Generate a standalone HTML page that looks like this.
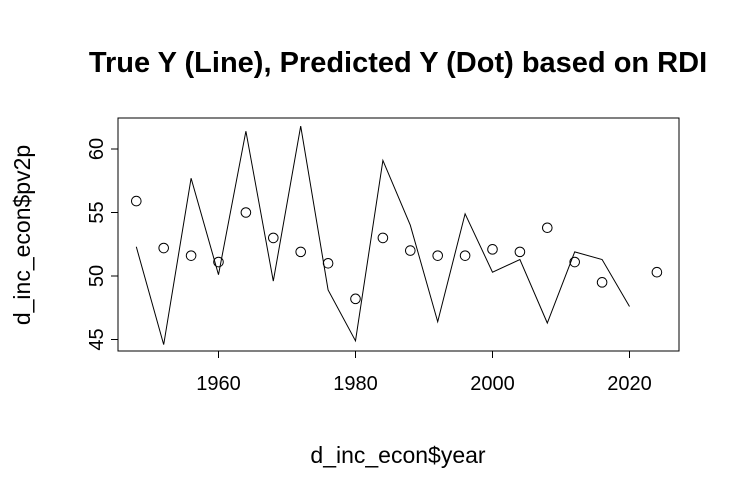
<!DOCTYPE html>
<html><head><meta charset="utf-8"><style>
body{margin:0;background:#fff}
svg text{font-family:"Liberation Sans",Arial,sans-serif;fill:#000}
</style></head><body>
<svg id="chart" width="738" height="498" viewBox="0 0 738 498" xmlns="http://www.w3.org/2000/svg">
<text x="398" y="72" font-size="29" font-weight="bold" text-anchor="middle">True Y (Line), Predicted Y (Dot) based on RDI</text>
<rect x="118" y="118" width="561" height="233" fill="none" stroke="#000" stroke-width="1"/>
<text x="398" y="463" font-size="23" text-anchor="middle">d_inc_econ$year</text>
<text transform="translate(30,235) rotate(-90)" font-size="23" text-anchor="middle">d_inc_econ$pv2p</text>
<g id="g"></g>
</svg>
<script>
const lineYears=[1948,1952,1956,1960,1964,1968,1972,1976,1980,1984,1988,1992,1996,2000,2004,2008,2012,2016,2020];
const trueY=[52.3,44.6,57.7,50.1,61.4,49.6,61.8,48.9,44.9,59.1,54.0,46.4,54.9,50.3,51.3,46.3,51.9,51.3,47.6];
const dotYears=[1948,1952,1956,1960,1964,1968,1972,1976,1980,1984,1988,1992,1996,2000,2004,2008,2012,2016,2024];
const predY=[55.9,52.2,51.6,51.1,55.0,53.0,51.9,51.0,48.2,53.0,52.0,51.6,51.6,52.1,51.9,53.8,51.1,49.5,50.3];
const xTicks=[1960,1980,2000,2020];
const yTicks=[45,50,55,60];
const NS="http://www.w3.org/2000/svg";
const X=v=>218.5+(v-1960)*6.85;
const Y=v=>276-(v-50)*12.7;
const g=document.getElementById('g');
function mk(t,a){const e=document.createElementNS(NS,t);for(const k in a)e.setAttribute(k,a[k]);g.appendChild(e);return e;}
let d=lineYears.map((yr,i)=>(i?'L':'M')+X(yr).toFixed(1)+','+Y(trueY[i]).toFixed(1)).join('');
const ln=mk('path',{d:d,fill:'none',stroke:'#000','stroke-width':1});


dotYears.forEach((yr,i)=>{const c=mk('circle',{cx:X(yr),cy:Y(predY[i]),r:4.8,fill:'none',stroke:'#000','stroke-width':1});

});
const xa=mk('line',{x1:X(1960),x2:X(2020),y1:351,y2:351,stroke:'#000'});


xTicks.forEach(v=>{const t=mk('line',{x1:X(v),x2:X(v),y1:351,y2:358,stroke:'#000'});


const l=mk('text',{x:X(v),y:390,'font-size':20,'text-anchor':'middle'});l.textContent=v;

});
const ya=mk('line',{x1:118,x2:118,y1:Y(45),y2:Y(60),stroke:'#000'});


yTicks.forEach(v=>{const t=mk('line',{x1:111,x2:118,y1:Y(v),y2:Y(v),stroke:'#000'});


const l=mk('text',{transform:`translate(103,${Y(v)}) rotate(-90)`,'font-size':20,'text-anchor':'middle'});l.textContent=v;

});
</script>
</body></html>
